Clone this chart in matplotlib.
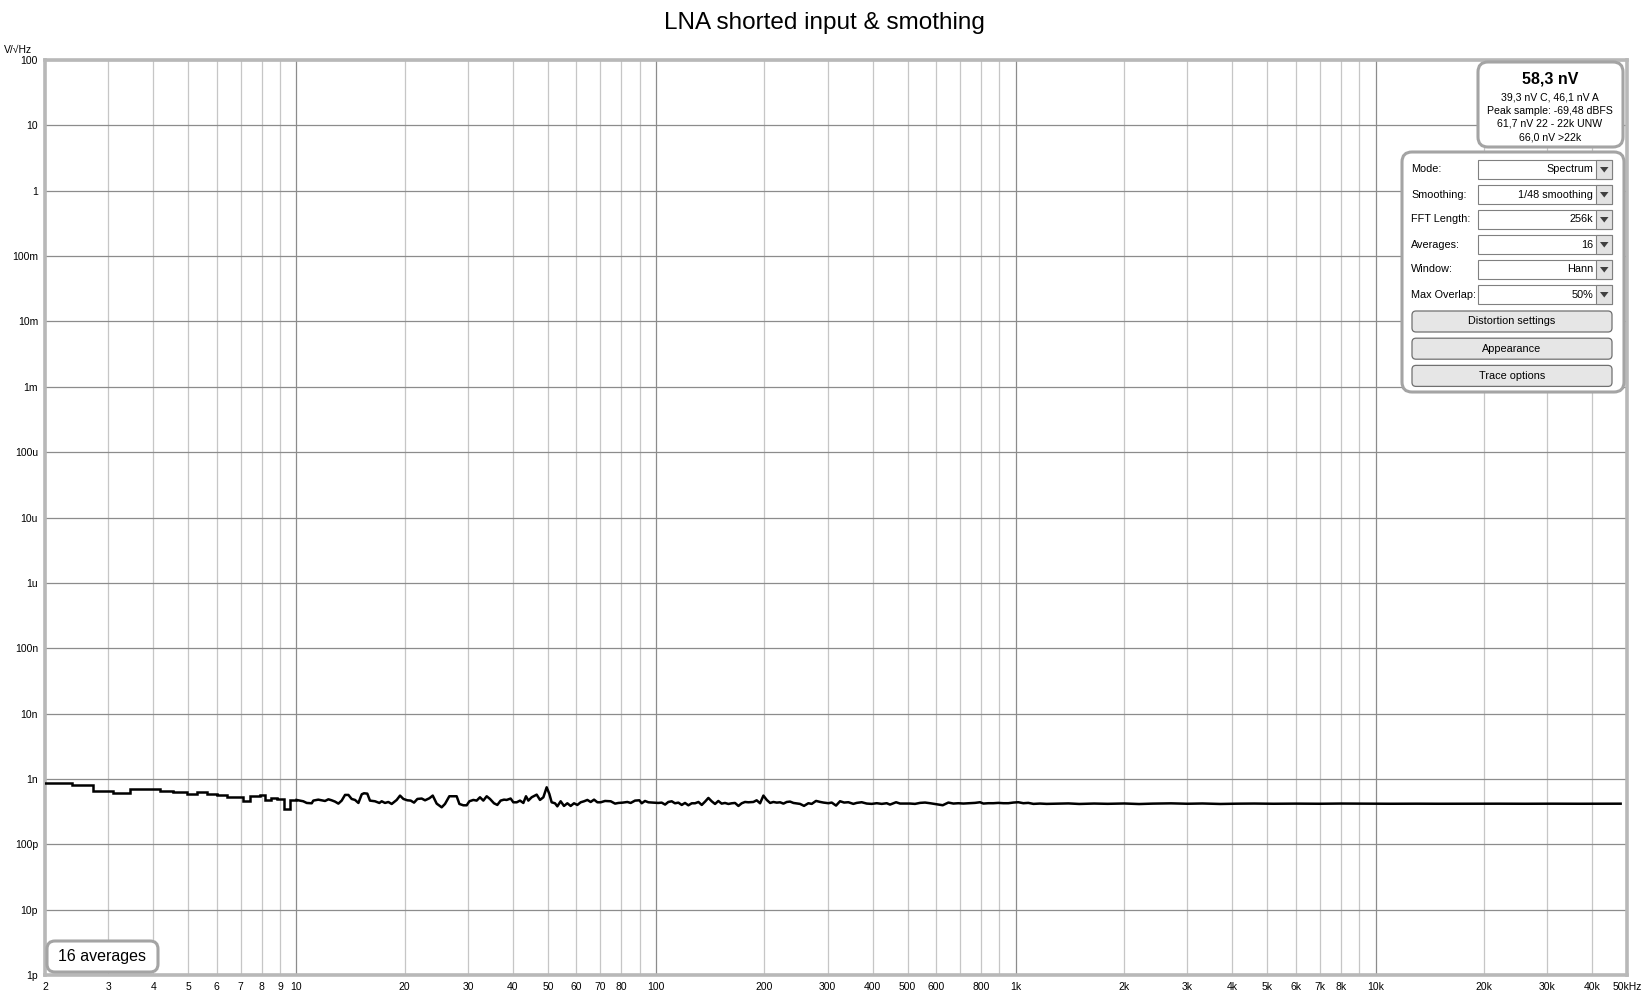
import matplotlib.pyplot as plt
import numpy as np
from matplotlib.patches import FancyBboxPatch, Rectangle, Polygon

plt.rcParams['font.family'] = ['Liberation Sans', 'DejaVu Sans']

# --- DADOS ---
titulo = "LNA shorted input & smothing"

# parte de baixa frequencia (degraus), nV/sqrt(Hz)
low_freq = [2.0, 2.37, 2.72, 3.10, 3.45, 4.17, 4.55, 4.95, 5.28, 5.63, 6.0, 6.40,
            7.0, 7.1, 7.43, 7.9, 8.2, 8.52, 8.85, 9.22, 9.6, 10.0]
low_level = [0.878, 0.82, 0.663, 0.617, 0.70, 0.655, 0.625, 0.59, 0.625, 0.59, 0.56, 0.537,
             0.52, 0.455, 0.556, 0.57, 0.477, 0.505, 0.49, 0.348, 0.477, 0.477]

# resto do espectro (1/48 smoothing), nV/sqrt(Hz)
freq = [10.0, 10.45, 10.68, 11.03, 11.14, 11.50, 11.75, 12.01, 12.27, 12.53, 12.80, 13.08,
        13.36, 13.65, 13.95, 14.24, 14.55, 14.87, 15.19, 15.41, 15.74, 16.01, 16.54, 17.00,
        17.26, 17.63, 18.01, 18.40, 19.00, 19.41, 19.83, 20.34, 20.78, 21.23, 21.69, 22.30,
        22.78, 23.42, 23.93, 24.54, 25.34, 25.88, 26.61, 27.30, 27.89, 28.38, 29.11, 29.74,
        30.25, 31.03, 31.70, 32.38, 33.08, 33.80, 34.52, 35.42, 36.18, 36.96, 37.76, 38.41,
        39.40, 40.09, 40.96, 41.84, 42.74, 43.47, 44.13, 45.08, 46.55, 47.55, 48.58, 49.62,
        50.48, 51.23, 52.34, 53.13, 54.27, 55.44, 56.64, 57.86, 59.11, 60.39, 61.69, 63.02,
        64.39, 65.77, 67.20, 68.65, 70.12, 72.10, 74.77, 76.88, 78.52, 80.75, 83.17, 84.96,
        87.36, 89.82, 91.16, 93.13, 95.14, 98.24, 101.4, 103.6, 105.9, 108.1, 110.5, 112.8,
        115.3, 117.8, 120.3, 122.9, 125.6, 128.3, 131.1, 133.9, 136.8, 139.7, 142.7, 145.8,
        148.9, 152.1, 155.4, 158.8, 162.2, 165.7, 169.3, 172.9, 176.6, 180.5, 186.3, 190.3,
        194.5, 198.7, 203.0, 207.4, 211.8, 216.4, 221.1, 225.9, 230.7, 235.7, 240.8,
        251.2, 257.7, 265.0, 270.7, 278.3, 285.5, 291.7, 301.2, 307.7, 316.3, 324.5, 333.0,
        342.3, 353.4, 361.1, 372.8, 384.9, 397.5, 410.4, 423.8, 437.5, 446.9, 464.5, 476.4,
        491.9, 507.9, 524.4, 541.5, 559.1, 577.3, 602.6, 626.2, 649.2, 670.3, 692.1, 714.6,
        745.8, 770.1, 795.1, 812.2, 838.6, 865.9, 894.0, 923.1, 953.2, 984.2, 1016, 1049,
        1083, 1119, 1167, 1218, 1300, 1400, 1500, 1650, 1800, 2000, 2200, 2400, 2700, 3000,
        3300, 3700, 4100, 4600, 5200, 6000, 7000, 8000, 9500, 11000, 13000, 15000, 18000,
        22000, 26000, 31000, 37000, 43000, 48000]
level = [0.477, 0.455, 0.429, 0.424, 0.466, 0.482, 0.471, 0.460, 0.488, 0.471, 0.450, 0.419,
         0.466, 0.569, 0.569, 0.494, 0.477, 0.429, 0.582, 0.603, 0.596, 0.466, 0.455, 0.429,
         0.455, 0.429, 0.444, 0.414, 0.477, 0.556, 0.494, 0.471, 0.466, 0.434, 0.494, 0.501,
         0.471, 0.506, 0.556, 0.419, 0.368, 0.414, 0.543, 0.543, 0.543, 0.414, 0.395, 0.395,
         0.455, 0.477, 0.466, 0.524, 0.466, 0.543, 0.494, 0.424, 0.400, 0.466, 0.482, 0.477,
         0.501, 0.439, 0.439, 0.466, 0.429, 0.543, 0.466, 0.524, 0.575, 0.477, 0.524, 0.745,
         0.589, 0.439, 0.424, 0.381, 0.455, 0.386, 0.424, 0.386, 0.424, 0.400, 0.439, 0.455,
         0.477, 0.444, 0.482, 0.439, 0.439, 0.460, 0.455, 0.419, 0.429, 0.434, 0.444, 0.429,
         0.466, 0.471, 0.424, 0.460, 0.439, 0.434, 0.429, 0.434, 0.405, 0.444, 0.455, 0.424,
         0.434, 0.400, 0.429, 0.395, 0.424, 0.424, 0.444, 0.400, 0.450, 0.512, 0.455, 0.414,
         0.460, 0.419, 0.429, 0.414, 0.424, 0.429, 0.386, 0.424, 0.444, 0.439, 0.444, 0.471,
         0.424, 0.556, 0.477, 0.429, 0.444, 0.434, 0.439, 0.419, 0.444, 0.450, 0.429,
         0.415, 0.387, 0.425, 0.415, 0.461, 0.445, 0.435, 0.425, 0.435, 0.391, 0.456, 0.435,
         0.440, 0.415, 0.430, 0.440, 0.420, 0.415, 0.425, 0.415, 0.425, 0.405, 0.440, 0.420,
         0.420, 0.420, 0.415, 0.430, 0.435, 0.425, 0.410, 0.396, 0.435, 0.420, 0.425, 0.420,
         0.425, 0.430, 0.440, 0.420, 0.425, 0.425, 0.430, 0.425, 0.425, 0.435, 0.440, 0.425,
         0.430, 0.415, 0.420, 0.415, 0.418, 0.422, 0.414, 0.420, 0.416, 0.421, 0.413, 0.419,
         0.423, 0.417, 0.421, 0.414, 0.418, 0.420, 0.417, 0.419, 0.417, 0.420, 0.418, 0.417,
         0.418, 0.417, 0.418, 0.418, 0.417, 0.418, 0.417, 0.418, 0.418]

# eixos
x_ticks = [2, 3, 4, 5, 6, 7, 8, 9, 10, 20, 30, 40, 50, 60, 70, 80, 100, 200, 300, 400,
           500, 600, 800, 1000, 2000, 3000, 4000, 5000, 6000, 7000, 8000, 10000, 20000,
           30000, 40000, 50000]
x_labels = ["2", "3", "4", "5", "6", "7", "8", "9", "10", "20", "30", "40", "50", "60",
            "70", "80", "100", "200", "300", "400", "500", "600", "800", "1k", "2k", "3k",
            "4k", "5k", "6k", "7k", "8k", "10k", "20k", "30k", "40k", "50kHz"]
y_ticks = [1e-12, 1e-11, 1e-10, 1e-9, 1e-8, 1e-7, 1e-6, 1e-5, 1e-4, 1e-3, 1e-2, 1e-1, 1, 10, 100]
y_labels = ["1p", "10p", "100p", "1n", "10n", "100n", "1u", "10u", "100u",
            "1m", "10m", "100m", "1", "10", "100"]

# paineis do REW
resumo_titulo = "58,3 nV"
resumo_linhas = ["39,3 nV C, 46,1 nV A", "Peak sample: -69,48 dBFS",
                 "61,7 nV 22 - 22k UNW", "66,0 nV >22k"]
opcoes_nomes = ["Mode:", "Smoothing:", "FFT Length:", "Averages:", "Window:", "Max Overlap:"]
opcoes_valores = ["Spectrum", "1/48 smoothing", "256k", "16", "Hann", "50%"]
botoes = ["Distortion settings", "Appearance", "Trace options"]
medias_texto = "16 averages"

# --- FIGURA ---
W, H = 1649, 999
fig = plt.figure(figsize=(W / 100, H / 100), dpi=100)
fig.patch.set_facecolor('white')

x0, x1, y0, y1 = 45, 1627, 60, 975
ax = fig.add_axes([x0 / W, 1 - y1 / H, (x1 - x0) / W, (y1 - y0) / H])
ax.set_xscale('log')
ax.set_yscale('log')
ax.set_xlim(2, 50000)
ax.set_ylim(1e-12, 100)

# grelha
cor_maior = '#8c8c8c'
cor_menor = '#c6c6c6'
for dec in [1, 10, 100, 1000, 10000]:
    for n in range(1, 10):
        f = n * dec
        if 2 <= f <= 50000:
            ax.axvline(f, color=cor_maior if n == 1 else cor_menor, lw=0.9, zorder=0.5)
for v in y_ticks:
    ax.axhline(v, color=cor_maior, lw=0.9, zorder=0.5)

ax.set_xticks(x_ticks)
ax.set_xticklabels(x_labels)
ax.set_xticks([], minor=True)
ax.set_yticks(y_ticks)
ax.set_yticklabels(y_labels)
ax.set_yticks([], minor=True)
ax.tick_params(axis='both', length=0, labelsize=7.5, colors='black')
ax.tick_params(axis='x', pad=5)
ax.tick_params(axis='y', pad=5)

for s in ax.spines.values():
    s.set_color('#b8b8b8')
    s.set_linewidth(2.6)

# traço
ax.plot(low_freq, np.array(low_level) * 1e-9, color='black', lw=1.8,
        drawstyle='steps-post', zorder=3, solid_joinstyle='miter')
ax.plot(freq, np.array(level) * 1e-9, color='black', lw=1.8, zorder=3)

# textos
fig.text(0.5, 1 - 23 / H, titulo, ha='center', va='center', fontsize=17.5)
fig.text(4 / W, 1 - 50 / H, "V/\u221aHz", ha='left', va='center', fontsize=7.5)

# --- PAINEIS (em pixeis) ---
ui = fig.add_axes([0, 0, 1, 1], zorder=5)
ui.set_xlim(0, W)
ui.set_ylim(H, 0)
ui.axis('off')
ui.patch.set_alpha(0)


def caixa(x, y, w, h, r, face='white', borda='#a4a4a4', lw=2.2):
    ui.add_patch(FancyBboxPatch((x, y), w, h, boxstyle=f"round,pad=0,rounding_size={r}",
                                facecolor=face, edgecolor=borda, lw=lw))


# resumo
caixa(1478, 62, 145, 85, 10)
ui.text(1550, 79, resumo_titulo, ha='center', va='center', fontsize=11.5, fontweight='bold')
for i, t in enumerate(resumo_linhas):
    ui.text(1550, 97 + 13.5 * i, t, ha='center', va='center', fontsize=7.6)

# opcoes
caixa(1402, 152, 222, 240, 10)
for i, (nome, val) in enumerate(zip(opcoes_nomes, opcoes_valores)):
    yc = 169.5 + 25 * i
    ui.text(1411, yc, nome, ha='left', va='center', fontsize=7.8)
    ui.add_patch(Rectangle((1478, yc - 9.5), 134, 19, facecolor='white',
                           edgecolor='#808080', lw=0.8))
    ui.add_patch(Rectangle((1596.5, yc - 9.5), 15.5, 19, facecolor='#e2e2e2',
                           edgecolor='#808080', lw=0.8))
    ui.add_patch(Polygon([(1600, yc - 2.5), (1608.5, yc - 2.5), (1604.25, yc + 3)],
                         closed=True, facecolor='#404040', edgecolor='none'))
    ui.text(1593, yc, val, ha='right', va='center', fontsize=7.8)

for i, b in enumerate(botoes):
    yt = 311 + 27.2 * i
    caixa(1412, yt, 200, 21, 4, face='#e6e6e6', borda='#707070', lw=0.9)
    ui.text(1512, yt + 10.5, b, ha='center', va='center', fontsize=7.8)

# medias
caixa(47, 941, 111, 31, 8)
ui.text(102.5, 957, medias_texto, ha='center', va='center', fontsize=11.5)

fig.savefig('out.png', dpi=100)
